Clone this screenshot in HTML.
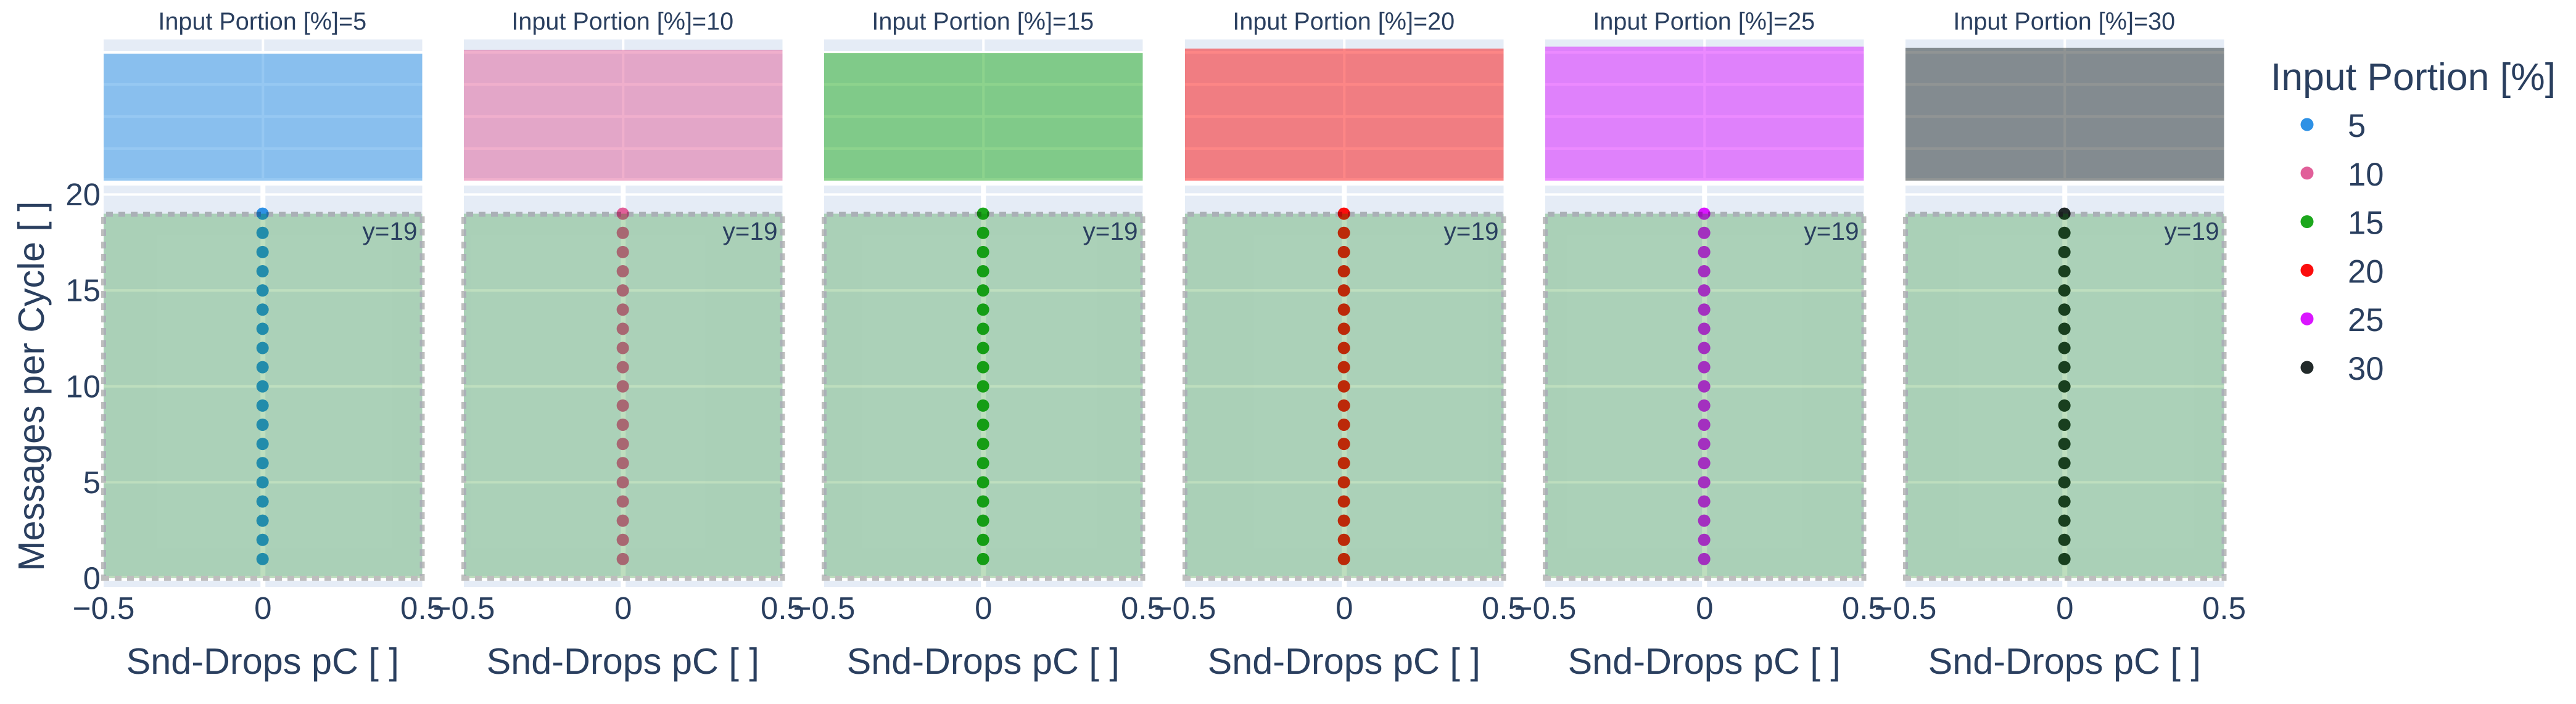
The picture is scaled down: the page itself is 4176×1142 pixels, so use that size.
<!DOCTYPE html>
<html lang="en">
<head>
<meta charset="utf-8">
<title>Snd-Drops pC vs Messages per Cycle</title>
<style>
html,body{margin:0;padding:0;background:#fff;width:4176px;height:1142px;overflow:hidden}
svg{display:block;font-family:"Liberation Sans",sans-serif}
text{fill:#2a3f5f}
</style>
</head>
<body>
<svg id="chart" xmlns="http://www.w3.org/2000/svg" width="4176" height="1142" viewBox="0 0 4176 1142"></svg>
<script>
const inputPortions = [5, 10, 15, 20, 25, 30];
const seriesColors = ['#2E91E5', '#E15F99', '#1CA71C', '#FB0D0D', '#DA16FF', '#222A2A'];
const marginalCounts = [198, 204, 199, 206, 209, 207];
const marginalTicks = [50, 100, 150, 200];
const messagesPerCycle = [1, 2, 3, 4, 5, 6, 7, 8, 9, 10, 11, 12, 13, 14, 15, 16, 17, 18, 19];
const sndDrops = [0, 0, 0, 0, 0, 0, 0, 0, 0, 0, 0, 0, 0, 0, 0, 0, 0, 0, 0];
const xTicks = [-0.5, 0, 0.5];
const yTicks = [0, 5, 10, 15, 20];
const highlightFloor = 0;
const highlightCeiling = 19;

const NS = 'http://www.w3.org/2000/svg';
const svg = document.getElementById('chart');
function make(parent, tag, props, content) {
  const el = document.createElementNS(NS, tag);
  for (const k in props) el.setAttribute(k, props[k]);
  if (content !== undefined) el.textContent = content;
  parent.appendChild(el);
  return el;
}
const panelLeft = [168, 752, 1336, 1921, 2505, 3089];
const panelWidth = 516.5;
const xScale = (left, v) => left + (v + 0.5) * panelWidth;
const yScale = v => 938 - v * 31.125;
const topScale = v => 293 - v * 52 / 50;
const tickText = v => String(v).replace('-', '\u2212');

inputPortions.forEach((portion, p) => {
  const left = panelLeft[p];
  const right = left + panelWidth;
  const cx = xScale(left, 0);
  const color = seriesColors[p];

  const g = make(svg, 'g', {});
  
  

  const title = make(g, 'text', {x: cx - 1, y: 48, 'text-anchor': 'middle', 'font-size': 39.6}, 'Input Portion [%]=' + portion);
  
  

  // marginal plot
  const topBg = make(g, 'rect', {x: left, y: 64, width: panelWidth, height: 229, fill: '#e5ecf6'});
  
  
  marginalTicks.forEach(t => {
    const line = make(g, 'line', {x1: left, x2: right, y1: topScale(t), y2: topScale(t), stroke: '#fff', 'stroke-width': 4});
    
    
  });
  const baseLine = make(g, 'line', {x1: left, x2: right, y1: topScale(0) - 2, y2: topScale(0) - 2, stroke: '#fff', 'stroke-width': 4});
  
  
  const topV = make(g, 'line', {x1: cx, x2: cx, y1: 64, y2: 293, stroke: '#fff', 'stroke-width': 4});
  
  
  const bar = make(g, 'rect', {x: left, y: topScale(marginalCounts[p]), width: panelWidth, height: topScale(0) - topScale(marginalCounts[p]), fill: color, opacity: 0.5});
  
  

  // main plot
  const bg = make(g, 'rect', {x: left, y: 301, width: panelWidth, height: 651, fill: '#e5ecf6'});
  
  
  yTicks.forEach(t => {
    const line = make(g, 'line', {x1: left, x2: right, y1: yScale(t), y2: yScale(t), stroke: '#fff', 'stroke-width': t === 0 ? 8 : 4});
    
    
  });
  const vLine = make(g, 'line', {x1: cx, x2: cx, y1: 301, y2: 952, stroke: '#fff', 'stroke-width': 8});
  
  

  messagesPerCycle.forEach((m, i) => {
    const dot = make(g, 'circle', {cx: xScale(left, sndDrops[i]) - 0.6, cy: yScale(m), r: 10, fill: color});
    
    
  });

  // highlighted band
  const bandTop = yScale(highlightCeiling);
  const bandBottom = yScale(highlightFloor);
  const band = make(g, 'g', {opacity: 0.25});
  
  
  make(band, 'rect', {x: left, y: bandTop, width: panelWidth, height: bandBottom - bandTop, fill: '#008000'});
  const dash = {fill: 'none', stroke: '#000', 'stroke-width': 8, 'stroke-dasharray': '11 9'};
  make(band, 'line', Object.assign({x1: left + 4, x2: right, y1: bandTop + 1, y2: bandTop + 1}, dash));
  make(band, 'line', Object.assign({x1: left - 2, x2: right + 4, y1: bandBottom, y2: bandBottom}, dash));
  make(band, 'line', Object.assign({x1: left, x2: left, y1: bandTop + 5.4, y2: bandBottom + 4}, dash));
  make(band, 'line', Object.assign({x1: right, x2: right, y1: bandTop + 4.4, y2: bandBottom + 4}, dash));

  const note = make(g, 'text', {x: right - 8, y: 389, 'text-anchor': 'end', 'font-size': 40.5}, 'y=' + highlightCeiling);
  
  

  xTicks.forEach(t => {
    const label = make(g, 'text', {x: xScale(left, t), y: 1004, 'text-anchor': 'middle', 'font-size': 51}, tickText(t));
    
    
  });
  const xTitle = make(g, 'text', {x: cx - 0.5, y: 1093, 'text-anchor': 'middle', 'font-size': 59.4}, 'Snd-Drops pC [ ]');
  
  
});

yTicks.forEach(t => {
  const label = make(svg, 'text', {x: 163, y: yScale(t) + 17.5, 'text-anchor': 'end', 'font-size': 51}, String(t));
  
  
});
const yTitle = make(svg, 'text', {transform: 'translate(71 626.5) rotate(-90)', 'text-anchor': 'middle', 'font-size': 59}, 'Messages per Cycle [ ]');



// legend
const legend = make(svg, 'g', {});


const legendTitle = make(legend, 'text', {x: 3681, y: 146, 'font-size': 62.5}, 'Input Portion [%]');


inputPortions.forEach((portion, i) => {
  const row = make(legend, 'g', {});
  
  
  const cy = 202 + i * 78.8;
  make(row, 'circle', {cx: 3740, cy: cy, r: 10.5, fill: seriesColors[i]});
  make(row, 'text', {x: 3806, y: cy + 20, 'font-size': 52.5}, String(portion));
});
</script>
</body>
</html>
